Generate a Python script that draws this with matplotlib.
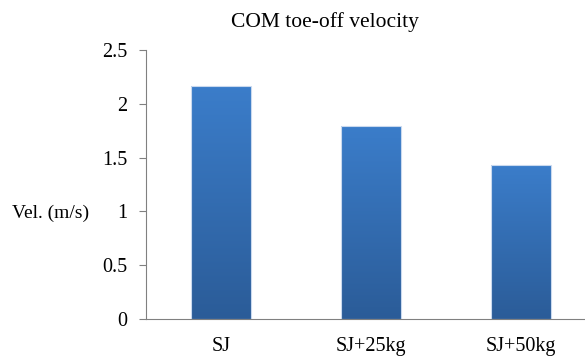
import numpy as np
import matplotlib.pyplot as plt
from matplotlib.colors import LinearSegmentedColormap

# Chart data
categories = ['SJ', 'SJ+25kg', 'SJ+50kg']
velocity = [2.165, 1.79, 1.43]
y_ticks = [0, 0.5, 1, 1.5, 2, 2.5]
y_tick_labels = ['0', '0.5', '1', '1.5', '2', '2.5']

plt.rcParams['font.family'] = ['Liberation Serif', 'DejaVu Serif']

W, H = 585, 356
fig = plt.figure(figsize=(W / 100, H / 100), dpi=100)
# axes extends slightly past the right edge, like the cropped original
ax = fig.add_axes([146 / W, 1 - 319 / H, 450 / W, (319 - 50) / H])

x = np.arange(len(categories))
bars = ax.bar(x, velocity, width=0.4, color='none', edgecolor='#c9d9ee', linewidth=0.8, zorder=2)

# vertical blue gradient inside each bar
cmap = LinearSegmentedColormap.from_list('bluegrad', ['#2b5c98', '#3b7dca'])
grad = np.linspace(0, 1, 256).reshape(-1, 1)
for b in bars:
    x0, w, h = b.get_x(), b.get_width(), b.get_height()
    im = ax.imshow(grad, cmap=cmap, origin='lower', aspect='auto',
                   extent=[x0, x0 + w, 0, h], zorder=1)
    im.set_clip_path(b)

ax.set_xlim(-0.5, 2.5)
ax.set_ylim(0, 2.5)
ax.set_yticks(y_ticks)
ax.set_yticklabels(y_tick_labels, fontsize=14.5)
ax.set_xticks(x)
ax.set_xticklabels(categories, fontsize=14.5)

for side in ['top', 'right']:
    ax.spines[side].set_visible(False)
ax.spines['left'].set_color('#808080')
ax.spines['bottom'].set_color('#808080')
ax.tick_params(axis='y', direction='out', length=5, color='#808080', pad=8.5)
ax.tick_params(axis='x', length=0, pad=13)

fig.text(12 / W, 1 - 213 / H, 'Vel. (m/s)', fontsize=14, va='center', ha='left')
fig.text(325 / W, 1 - 22 / H, 'COM toe-off velocity', fontsize=15.5, va='center', ha='center')

fig.savefig('out.png', dpi=100)
